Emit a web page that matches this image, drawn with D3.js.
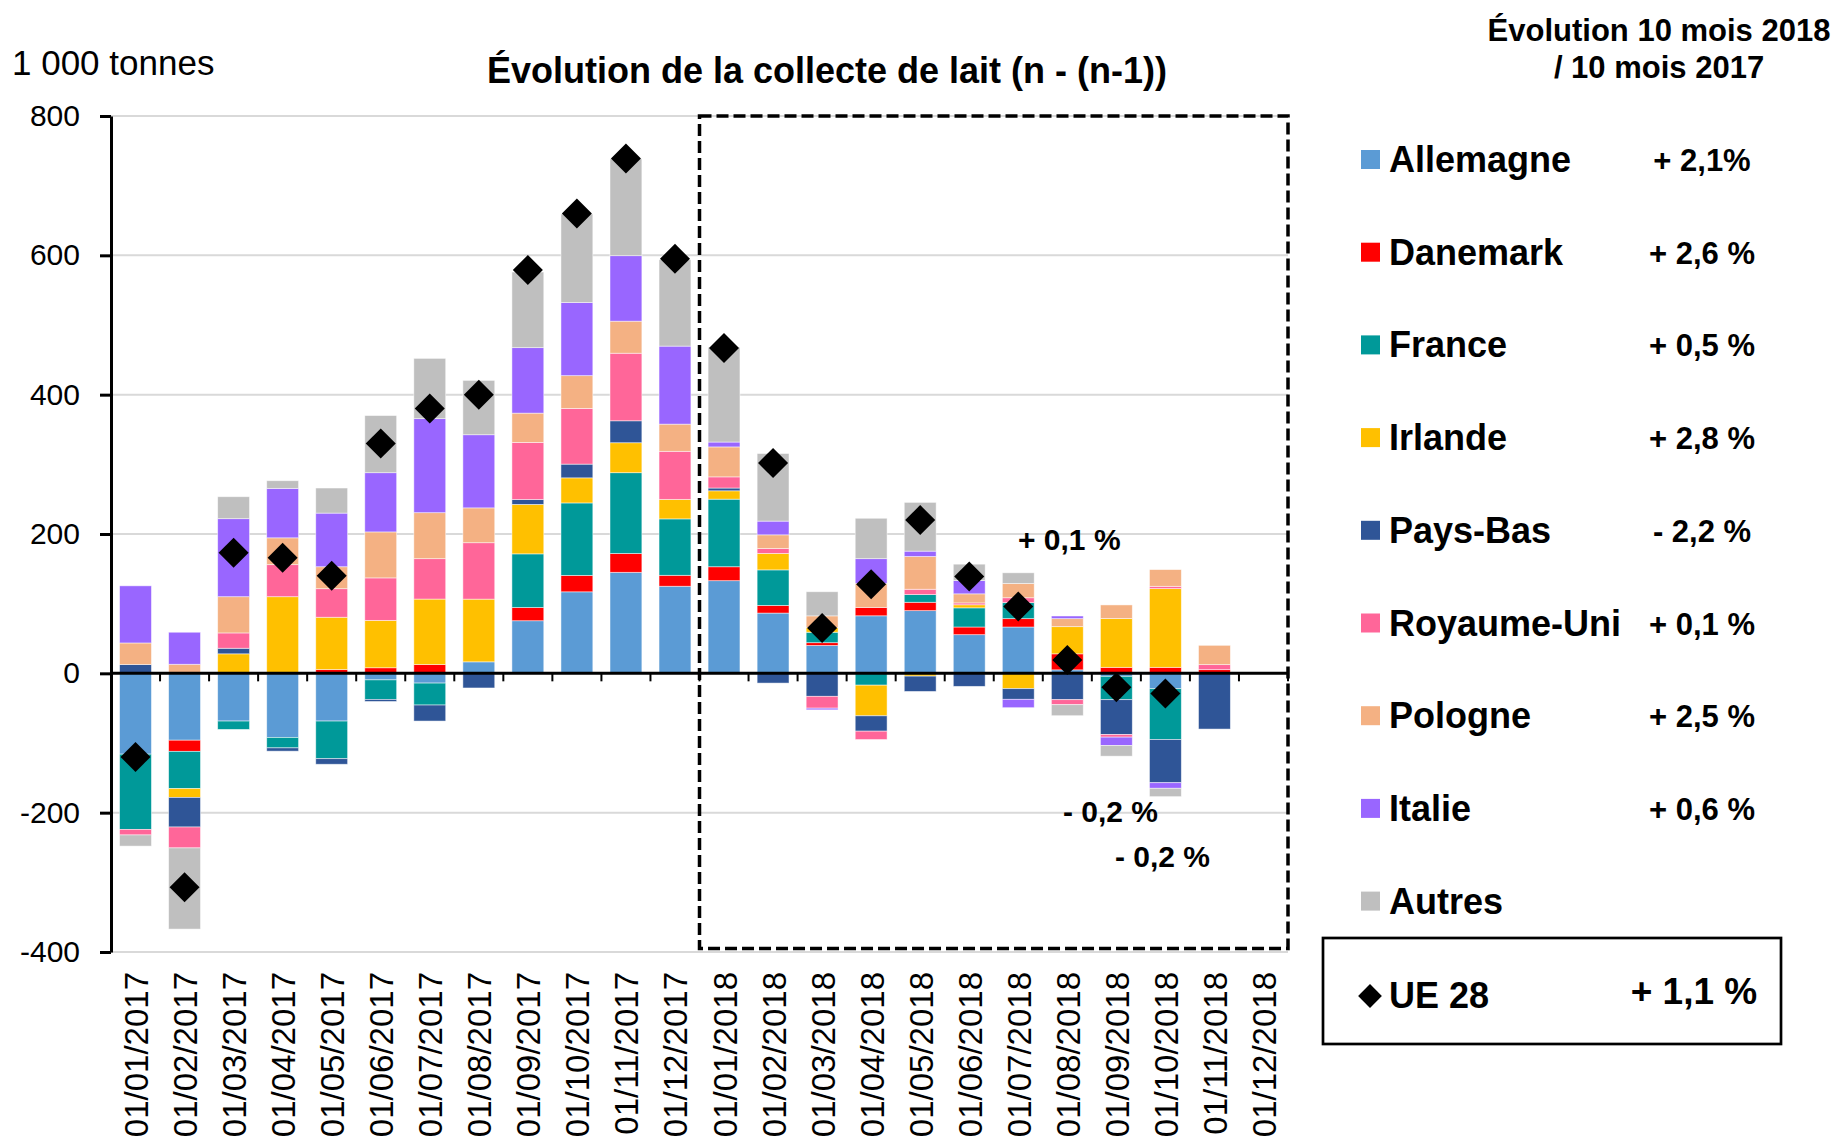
<!DOCTYPE html>
<html>
<head>
<meta charset="utf-8">
<script src="https://cdn.jsdelivr.net/npm/d3@7"></script>
<style>
 body { margin: 0; background: #fff; }
 svg { display: block; font-family: 'Liberation Sans', Arial, sans-serif; }
</style>
</head>
<body>
<svg id="chart" width="1836" height="1138"></svg>
<script>
// months on the x axis
var months = ['01/01/2017','01/02/2017','01/03/2017','01/04/2017','01/05/2017','01/06/2017',
 '01/07/2017','01/08/2017','01/09/2017','01/10/2017','01/11/2017','01/12/2017',
 '01/01/2018','01/02/2018','01/03/2018','01/04/2018','01/05/2018','01/06/2018',
 '01/07/2018','01/08/2018','01/09/2018','01/10/2018','01/11/2018','01/12/2018'];

// countries, in stacking order
var countries = ['Allemagne','Danemark','France','Irlande','Pays-Bas','Royaume-Uni','Pologne','Italie','Autres'];
var countryColors = ['#5b9bd5','#ff0000','#009999','#ffc000','#2f5597','#ff6699','#f4b183','#9966ff','#bfbfbf'];
var countryEvol = ['+ 2,1%','+ 2,6 %','+ 0,5 %','+ 2,8 %','- 2,2 %','+ 0,1 %','+ 2,5 %','+ 0,6 %',''];

// variation n - (n-1), 1 000 tonnes
var allemagne = [-116,-96,-68.5,-92,-68.5,-9.4,-14,16.5,75.5,117,145,125,133,86.5,40,82.6,90,55.5,66.5,5,-4.3,-22,0,0];
var danemark  = [0,-16,0,0,5.5,8,12.6,0,19,23.6,27,15.7,20,11,4,12,12,11,12,23,8.6,8.6,5.3,0];
var france    = [-108,-53.5,-12,-15,-54,-28,-31.5,0,77,104,116,81,97,51,15,-17,11,27.5,23,0,-33.5,-73,0,0];
var irlande   = [0,-12.6,28,110,75,68,94,90,71,36,43,28,12,23.6,7,-44,-4,4.4,-22,39,70,113,0,0];
var paysBas   = [12.6,-42.5,8,-4.7,-8,-3,-23,-21,7,19.7,31.5,0,4,-14,-33,-22,-22,-18.7,-15.3,-37.8,-50,-62,-80,0];
var royaumeUni= [-8,-30,22,46,41,61,58,81,82,80,97,69,16,7,-17,-12,7.7,2.7,7,-7.2,-3.8,3.3,7.2,0];
var pologne   = [31,13,52,38.5,31.5,66,66,50,42,47,46,39,43,19.7,16.5,34.6,47,13,20.5,11.5,19.6,24,27.7,0];
var italie    = [82,46,112,71,77,85,135,105,94,105,94,112,7,19.7,-2.4,35.4,7.7,19,-12,3.8,-12,-8,0,0];
var autres    = [-16,-116.5,31.5,11,36,82,86.5,78,108.5,127,139,124,136,97,34.6,58,70,23.6,15.3,-15.8,-15.3,-12,0,0];
var ue28      = [-120,-307,173,166,140,330,380,400,579,660,739,595,467,302,65,128,220,139,96,19,-20,-29,null,null];

var yTicks = [-400,-200,0,200,400,600,800];

// annotations on the 2018 part
var notes = [
 {text: '+ 0,1 %', x: 1018, y: 550},
 {text: '- 0,2 %', x: 1063, y: 822},
 {text: '- 0,2 %', x: 1115, y: 867}
];

var seriesValues = [allemagne, danemark, france, irlande, paysBas, royaumeUni, pologne, italie, autres];

var svg = d3.select('#chart');
svg.append('rect').attr('width', 1836).attr('height', 1138).style('fill', '#fff');

var x = d3.scaleBand()
 .domain(months)
 .range([111, 1288])
 .paddingInner(0.35)
 .paddingOuter(0.175);

var y = d3.scaleLinear()
 .domain([-400, 800])
 .range([952, 116]);

// table for d3.stack
var rows = months.map(function(m, i){
 var r = {month: m};
 countries.forEach(function(c, k){ r[c] = seriesValues[k][i]; });
 return r;
});

var stacked = d3.stack()
 .keys(countries)
 .offset(d3.stackOffsetDiverging)(rows);

// grid lines
svg.append('g').attr('class', 'grid')
 .selectAll('line')
 .data(yTicks)
 .enter().append('line')
 .attr('x1', 111)
 .attr('x2', 1288)
 .attr('y1', function(d){ return y(d); })
 .attr('y2', function(d){ return y(d); })
 .style('stroke', '#d9d9d9')
 .style('stroke-width', '2px');

// stacked bars
var barLayer = svg.append('g').attr('class', 'bars');
stacked.forEach(function(serie, k){
 barLayer.append('g')
  .style('fill', countryColors[k])
  .selectAll('rect')
  .data(serie)
  .enter().append('rect')
  .attr('x', function(d){ return x(d.data.month); })
  .attr('width', x.bandwidth())
  .attr('y', function(d){ return y(Math.max(d[0], d[1])); })
  .attr('height', function(d){ return Math.abs(y(d[0]) - y(d[1])); })
  .style('stroke', '#ffffff')
  .style('stroke-opacity', 0.6)
  .style('stroke-width', '0.8px');
});

// x axis line on zero, with ticks between categories
var xAxis = svg.append('g').attr('class', 'x-axis');
xAxis.append('line')
 .attr('x1', 111).attr('x2', 1289)
 .attr('y1', y(0)).attr('y2', y(0))
 .style('stroke', '#000')
 .style('stroke-width', '3px');
xAxis.selectAll('.xtick')
 .data(d3.range(months.length + 1))
 .enter().append('line')
 .attr('class', 'xtick')
 .attr('x1', function(i){ return x.range()[0] + i * x.step(); })
 .attr('x2', function(i){ return x.range()[0] + i * x.step(); })
 .attr('y1', y(0))
 .attr('y2', y(0) + 8)
 .style('stroke', '#000')
 .style('stroke-width', '2px');

// month labels, rotated
svg.append('g').attr('class', 'x-labels')
 .selectAll('text')
 .data(months)
 .enter().append('text')
 .attr('transform', function(d){ return 'translate(' + (x(d) + x.bandwidth()/2 + 1) + ',972) rotate(-90)'; })
 .attr('text-anchor', 'end')
 .attr('dominant-baseline', 'central')
 .attr('font-size', 33)
 .text(function(d){ return d; });

// y axis
var yAxis = svg.append('g')
 .attr('transform', 'translate(111,0)')
 .call(d3.axisLeft(y).tickValues(yTicks).tickSize(11).tickSizeOuter(0).tickPadding(20)
  .tickFormat(function(d){ return String(d); }));
yAxis.select('.domain').style('stroke', '#000').style('stroke-width', '3px');
yAxis.selectAll('.tick line').style('stroke', '#000').style('stroke-width', '3px');
yAxis.selectAll('.tick text')
 .attr('font-size', 30)
 .attr('font-family', "'Liberation Sans', Arial, sans-serif")
 .style('fill', '#000');

// UE 28 diamonds
var diamondType = d3.symbolDiamond2 || {
 draw: function(context, size){
  var r = Math.sqrt(size) * 0.62625;
  context.moveTo(0, -r); context.lineTo(r, 0); context.lineTo(0, r); context.lineTo(-r, 0); context.closePath();
 }
};
svg.append('g').attr('class', 'ue28')
 .selectAll('path')
 .data(months.map(function(m, i){ return {month: m, v: ue28[i]}; }).filter(function(d){ return d.v != null; }))
 .enter().append('path')
 .attr('d', d3.symbol().type(diamondType).size(574))
 .attr('transform', function(d){ return 'translate(' + (x(d.month) + x.bandwidth()/2) + ',' + y(d.v) + ')'; })
 .style('fill', '#000');

// dashed frame around 2018
svg.append('rect')
 .attr('x', x.range()[0] + 12 * x.step())
 .attr('y', y(800))
 .attr('width', 1288 - (x.range()[0] + 12 * x.step()))
 .attr('height', y(-395) - y(800))
 .style('fill', 'none')
 .style('stroke', '#000')
 .style('stroke-width', '3.5px')
 .style('stroke-dasharray', '12,5');

// annotations
svg.append('g').selectAll('text')
 .data(notes)
 .enter().append('text')
 .attr('x', function(d){ return d.x; })
 .attr('y', function(d){ return d.y; })
 .attr('font-size', 30)
 .attr('font-weight', 'bold')
 .text(function(d){ return d.text; });

// titles
svg.append('text').attr('x', 12).attr('y', 75).attr('font-size', 35).text('1 000 tonnes');
svg.append('text').attr('x', 827).attr('y', 83).attr('text-anchor', 'middle')
 .attr('font-size', 36).attr('font-weight', 'bold')
 .text('Évolution de la collecte de lait (n - (n-1))');
svg.append('text').attr('x', 1659).attr('y', 41).attr('text-anchor', 'middle')
 .attr('font-size', 31).attr('font-weight', 'bold').text('Évolution 10 mois 2018');
svg.append('text').attr('x', 1659).attr('y', 78).attr('text-anchor', 'middle')
 .attr('font-size', 31).attr('font-weight', 'bold').text('/ 10 mois 2017');

// legend
var legend = svg.append('g').attr('class', 'legend');
var legendRows = legend.selectAll('g')
 .data(countries)
 .enter().append('g')
 .attr('transform', function(d, i){ return 'translate(0,' + (172 + 92.7 * i) + ')'; });
legendRows.append('rect')
 .attr('x', 1361).attr('y', -22)
 .attr('width', 19).attr('height', 19)
 .style('fill', function(d, i){ return countryColors[i]; });
legendRows.append('text')
 .attr('x', 1389).attr('y', 0)
 .attr('font-size', 36).attr('font-weight', 'bold')
 .text(function(d){ return d; });
legendRows.append('text')
 .attr('x', 1702).attr('y', -1)
 .attr('text-anchor', 'middle')
 .attr('font-size', 31).attr('font-weight', 'bold')
 .text(function(d, i){ return countryEvol[i]; });

// UE 28 box
legend.append('rect')
 .attr('x', 1323).attr('y', 938).attr('width', 458).attr('height', 106)
 .style('fill', 'none').style('stroke', '#000').style('stroke-width', '2.7px');
legend.append('path')
 .attr('d', d3.symbol().type(diamondType).size(360))
 .attr('transform', 'translate(1370,996)')
 .style('fill', '#000');
legend.append('text').attr('x', 1389).attr('y', 1008)
 .attr('font-size', 36).attr('font-weight', 'bold').text('UE 28');
legend.append('text').attr('x', 1694).attr('y', 1004).attr('text-anchor', 'middle')
 .attr('font-size', 37).attr('font-weight', 'bold').text('+ 1,1 %');
</script>
</body>
</html>
